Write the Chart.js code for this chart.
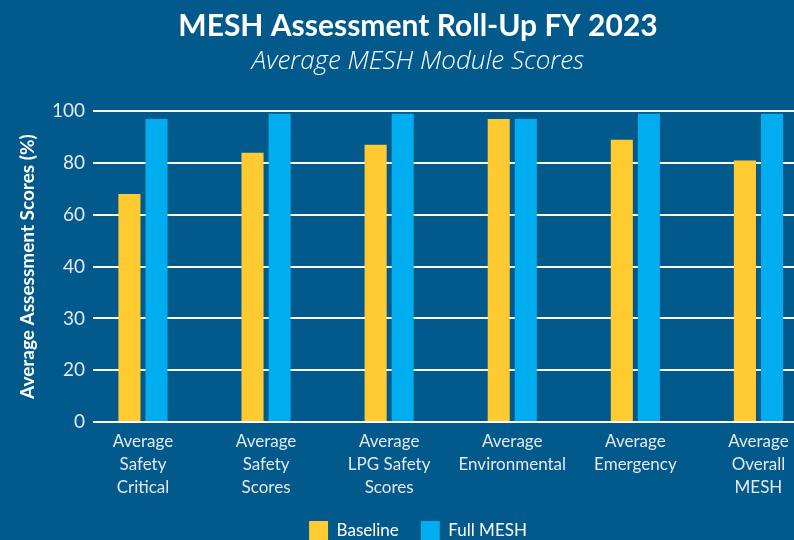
<!DOCTYPE html>
<html>
<head>
<meta charset="utf-8">
<script src="https://cdn.jsdelivr.net/npm/chart.js@4.4.0/dist/chart.umd.min.js"></script>
<style>
  html, body { margin: 0; padding: 0; overflow: hidden; background: #02598c; }
  canvas { display: block; }
</style>
</head>
<body>
<canvas id="myChart" width="836" height="550"></canvas>
<script>
var categories = [
	["Average", "Safety", "Critical"],
	["Average", "Safety", "Scores"],
	["Average", "LPG Safety", "Scores"],
	["Average", "Environmental"],
	["Average", "Emergency"],
	["Average", "Overall", "MESH"]
];
var baseline = [68, 84, 87, 97, 89, 81];
var fullMesh = [97, 99, 99, 97, 99, 99];
var tickValues = [0, 20, 30, 40, 60, 80, 100];

// y axis of the original puts its (uneven) tick labels at equal spacing
class SteppedScale extends Chart.LinearScale {
	buildTicks() {
		return tickValues.map(function (v) { return { value: v }; });
	}
	getPixelForValue(value) {
		if (value === null || value === undefined || isNaN(value)) return NaN;
		var i = 0;
		while (i < tickValues.length - 2 && value > tickValues[i + 1]) i++;
		var a = tickValues[i], b = tickValues[i + 1];
		var pos = (i + (value - a) / (b - a)) / (tickValues.length - 1);
		return this.getPixelForDecimal(pos);
	}
	getValueForPixel(pixel) {
		var pos = this.getDecimalForPixel(pixel) * (tickValues.length - 1);
		var i = Math.max(0, Math.min(tickValues.length - 2, Math.floor(pos)));
		return tickValues[i] + (pos - i) * (tickValues[i + 1] - tickValues[i]);
	}
}
SteppedScale.id = 'stepped';
SteppedScale.defaults = Chart.LinearScale.defaults;
Chart.register(SteppedScale);

var ctx = document.getElementById("myChart");
var myChart = new Chart(ctx, {
	type: 'bar',
	data: {
		datasets: [
			{
				label: "Baseline",
				data: baseline.map(function (v, i) { return { x: i, y: v }; }),
				backgroundColor: "#ffcb31",
				categoryPercentage: 0.44,
				barPercentage: 0.815
			},
			{
				label: "Full MESH",
				data: fullMesh.map(function (v, i) { return { x: i, y: v }; }),
				backgroundColor: "#00aeef",
				categoryPercentage: 0.44,
				barPercentage: 0.815
			}
		]
	},
	options: {
		responsive: false,
		maintainAspectRatio: false,
		animation: false,
		plugins: {
			title: {
				display: true,
				text: "MESH Assessment Roll-Up FY 2023",
				color: "#ffffff",
				font: { family: "Lato", size: 30, weight: "bold" },
				padding: { top: 8, bottom: 2 }
			},
			subtitle: {
				display: true,
				text: "Average MESH Module Scores",
				color: "#ffffff",
				font: { family: "Open Sans", size: 26, style: "italic", weight: "300" },
				padding: { top: 0, bottom: 34 }
			},
			legend: {
				position: 'bottom',
				labels: {
					color: "#ffffff",
					boxWidth: 19,
					boxHeight: 19,
					padding: 22,
					font: { family: "Lato", size: 17 }
				}
			},
			tooltip: { enabled: false }
		},
		scales: {
			x: {
				type: 'linear',
				offset: false,
				min: -0.406,
				max: 5.63,
				grid: { display: false },
				border: { display: false },
				ticks: {
					stepSize: 1,
					includeBounds: false,
					autoSkip: false,
					maxRotation: 0,
					color: "#e4e9ef",
					padding: 0,
					font: { family: "Lato", size: 17, lineHeight: 1.35 },
					callback: function (v) { return categories[v] || ""; }
				},
				afterFit: function (scale) { scale.height = 77; }
			},
			y: {
				type: 'stepped',
				min: 0,
				max: 100,
				afterFit: function (scale) { scale.width = 93; },
				grid: { color: "#ffffff", lineWidth: 2, drawTicks: false },
				border: { display: false },
				ticks: {
					color: "#e4e9ef",
					padding: 8,
					font: { family: "Lato", size: 19 },
					callback: function (v) { return v; }
				},
				title: {
					display: true,
					text: "Average Assessment Scores (%)",
					color: "#ffffff",
					font: { family: "Lato", size: 19, weight: "bold" },
					padding: { top: 16, bottom: 0 }
				}
			}
		}
	}
});
</script>
</body>
</html>
